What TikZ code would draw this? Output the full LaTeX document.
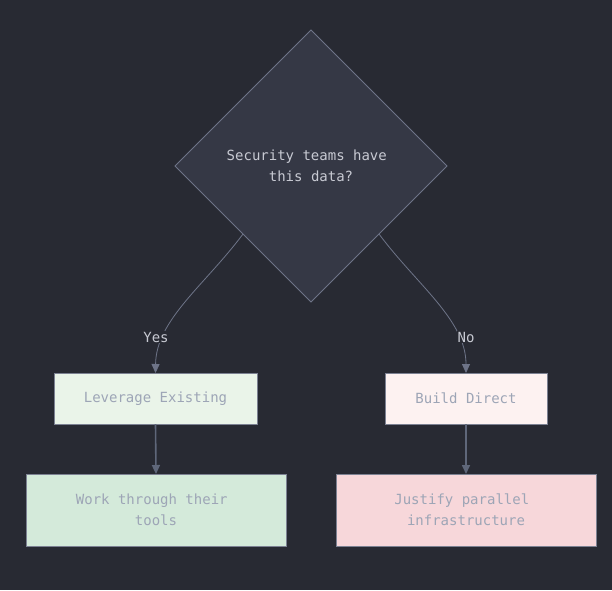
\documentclass[tikz,border=0pt]{standalone}
\usepackage{fontspec}
\setmonofont{DejaVu Sans Mono}
\usetikzlibrary{shapes.geometric,arrows.meta}
\definecolor{bg}{HTML}{282A33}
\definecolor{dfill}{HTML}{353845}
\definecolor{dline}{HTML}{6E7488}
\definecolor{ltext}{HTML}{C8CAD3}
\definecolor{btext}{HTML}{9DA5B6}
\definecolor{bline}{HTML}{7C8192}
\definecolor{aline}{HTML}{5F677A}
\definecolor{gA}{HTML}{EAF4E9}
\definecolor{gB}{HTML}{D4EADA}
\definecolor{rA}{HTML}{FDF2F1}
\definecolor{rB}{HTML}{F7D7DA}
\tikzset{
  every node/.style={font=\ttfamily\fontsize{14pt}{21pt}\selectfont},
  dec/.style={shape=diamond, draw=dline, fill=dfill, text=ltext, line width=0.8pt,
    minimum width=272pt, minimum height=272pt, inner sep=0pt, outer sep=0pt, align=center},
  box/.style={draw=bline, line width=1pt, text=btext, align=center, inner sep=0pt, outer sep=0pt},
  lbl/.style={fill=bg, text=ltext, inner sep=1pt},
  curve/.style={draw=dline, line width=0.8pt, -{Triangle[length=9pt,width=8pt]}},
  vert/.style={draw=aline, line width=1.6pt, -{Triangle[length=9pt,width=8pt]}}
}
\begin{document}
\begin{tikzpicture}[x=1pt,y=-1pt]
\fill[bg] (0,0) rectangle (612,590);
\useasboundingbox (0,0) rectangle (612,590);
\node[dec] (d) at (311,166) {Security teams have\phantom{x}\\ this data?};
\node[box, fill=gA, minimum width=203pt, minimum height=51pt] (le) at (155.5,398.5) {Leverage Existing};
\node[box, fill=gB, minimum width=260pt, minimum height=72pt] (wt) at (156,510) {Work through their\phantom{x}\\ tools};
\node[box, fill=rA, minimum width=162pt, minimum height=51pt] (bd) at (466,398.5) {Build Direct};
\node[box, fill=rB, minimum width=260pt, minimum height=72pt] (jp) at (466,510) {Justify parallel\phantom{x}\\ infrastructure};
\draw[curve] (d.south west) .. controls (205,285) and (156,320) .. (le.north);
\draw[curve] (d.south east) .. controls (417,285) and (466,320) .. (bd.north);
\node[lbl] (yes) at (156,337) {Yes};
\node[lbl] (no) at (466,337) {No};
\draw[vert] (le.south) -- (wt.north);
\draw[vert] (bd.south) -- (jp.north);
\end{tikzpicture}
\end{document}
